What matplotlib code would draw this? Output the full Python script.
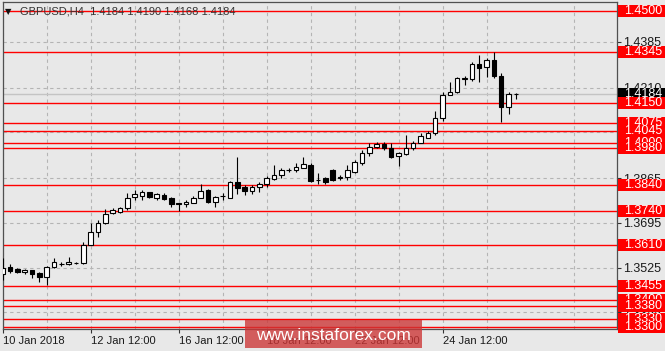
import matplotlib
matplotlib.use('Agg')
import matplotlib.pyplot as plt
from matplotlib.patches import Rectangle
from matplotlib.transforms import blended_transform_factory
import numpy as np

plt.rcParams['font.family'] = ['Liberation Sans', 'DejaVu Sans']

# ---- data (GBPUSD H4) ----
opens = [1.3500, 1.3528, 1.3518, 1.3507, 1.3516, 1.3503, 1.3488, 1.3526, 1.3537, 1.3538,
         1.3542, 1.3542, 1.3611, 1.3659, 1.3693, 1.3733, 1.3738, 1.3750, 1.3795, 1.3797,
         1.3811, 1.3791, 1.3800, 1.3788, 1.3769, 1.3766, 1.3772, 1.3788, 1.3820, 1.3773,
         1.3796, 1.3791, 1.3849, 1.3832, 1.3817, 1.3830, 1.3842, 1.3861, 1.3877, 1.3895,
         1.3896, 1.3905, 1.3915, 1.3858, 1.3865, 1.3896, 1.3867, 1.3868, 1.3890, 1.3922,
         1.3960, 1.3985, 1.3994, 1.3979, 1.3951, 1.3956, 1.3979, 1.4000, 1.4019, 1.4036,
         1.4093, 1.4182, 1.4194, 1.4244, 1.4241, 1.4298, 1.4289, 1.4315, 1.4255, 1.4135,
         1.4184]
highs = [1.3561, 1.3537, 1.3522, 1.3519, 1.3517, 1.3507, 1.3531, 1.3560, 1.3547, 1.3564,
         1.3547, 1.3623, 1.3693, 1.3706, 1.3748, 1.3750, 1.3754, 1.3810, 1.3820, 1.3820,
         1.3814, 1.3810, 1.3808, 1.3795, 1.3771, 1.3782, 1.3797, 1.3842, 1.3823, 1.3797,
         1.3810, 1.3854, 1.3947, 1.3839, 1.3839, 1.3849, 1.3873, 1.3915, 1.3905, 1.3905,
         1.3924, 1.3944, 1.3922, 1.3884, 1.3868, 1.3899, 1.3877, 1.3915, 1.3934, 1.3972,
         1.3998, 1.4002, 1.4004, 1.3998, 1.3966, 1.4029, 1.4007, 1.4036, 1.4045, 1.4121,
         1.4194, 1.4232, 1.4249, 1.4255, 1.4308, 1.4334, 1.4321, 1.4346, 1.4264, 1.4194,
         1.4190]
lows = [1.3478, 1.3503, 1.3503, 1.3502, 1.3486, 1.3471, 1.3459, 1.3522, 1.3531, 1.3535,
        1.3540, 1.3538, 1.3610, 1.3642, 1.3691, 1.3729, 1.3731, 1.3744, 1.3782, 1.3782,
        1.3788, 1.3782, 1.3782, 1.3757, 1.3740, 1.3757, 1.3769, 1.3788, 1.3769, 1.3757,
        1.3782, 1.3790, 1.3805, 1.3802, 1.3804, 1.3812, 1.3833, 1.3858, 1.3867, 1.3887,
        1.3890, 1.3903, 1.3852, 1.3842, 1.3843, 1.3854, 1.3858, 1.3858, 1.3884, 1.3915,
        1.3951, 1.3979, 1.3972, 1.3941, 1.3912, 1.3953, 1.3972, 1.3998, 1.4017, 1.4029,
        1.4083, 1.4180, 1.4188, 1.4220, 1.4236, 1.4232, 1.4251, 1.4245, 1.4080, 1.4109,
        1.4168]
closes = [1.3523, 1.3512, 1.3509, 1.3515, 1.3500, 1.3489, 1.3526, 1.3547, 1.3540, 1.3547,
          1.3544, 1.3611, 1.3659, 1.3693, 1.3728, 1.3744, 1.3750, 1.3791, 1.3804, 1.3811,
          1.3792, 1.3804, 1.3786, 1.3766, 1.3768, 1.3776, 1.3791, 1.3816, 1.3773, 1.3795,
          1.3798, 1.3852, 1.3828, 1.3818, 1.3830, 1.3843, 1.3865, 1.3877, 1.3896, 1.3897,
          1.3906, 1.3918, 1.3855, 1.3859, 1.3852, 1.3858, 1.3870, 1.3896, 1.3925, 1.3960,
          1.3985, 1.3994, 1.3979, 1.3947, 1.3960, 1.3979, 1.4000, 1.4026, 1.4037, 1.4093,
          1.4182, 1.4194, 1.4245, 1.4245, 1.4299, 1.4285, 1.4315, 1.4255, 1.4137, 1.4185,
          1.4184]

level_prices = [1.4500, 1.4345, 1.4150, 1.4075, 1.4045, 1.4000, 1.3980, 1.3840,
                1.3740, 1.3610, 1.3455, 1.3400, 1.3380, 1.3330, 1.3300]
last_price = 1.4184
axis_ticks = [1.4385, 1.4210, 1.4040, 1.3865, 1.3695, 1.3525, 1.3355]
date_positions = [0, 12, 24, 36, 48, 60]
date_labels = ['10 Jan 2018', '12 Jan 12:00', '16 Jan 12:00', '18 Jan 12:00',
               '22 Jan 12:00', '24 Jan 12:00']
title_text = 'GBPUSD,H4  1.4184 1.4190 1.4168 1.4184'
watermark_text = 'www.instaforex.com'

# ---- figure ----
BG = '#e8e8e8'
W, H = 665, 351
fig = plt.figure(figsize=(W / 100, H / 100), dpi=100, facecolor=BG)
ax = fig.add_axes([2.5 / W, 1 - 329 / H, (617 - 2.5) / W, (329 - 1.7) / H])
ax.set_facecolor(BG)
ax.set_axisbelow(True)

# grid & ticks
ax.yaxis.tick_right()
ax.set_yticks(axis_ticks)
ax.set_yticklabels([f'{v:.4f}' for v in axis_ticks])
ax.set_xticks(date_positions)
ax.set_xticklabels(date_labels)
ax.set_xticks(np.arange(6, 84, 12), minor=True)
for lab in ax.get_xticklabels():
    lab.set_ha('left')
grid_kw = dict(color='#b4b4b4', linestyle=(0, (3, 3)), linewidth=0.8)
ax.grid(True, axis='y', which='major', **grid_kw)
ax.grid(True, axis='x', which='both', **grid_kw)
ax.tick_params(axis='y', which='major', length=3, width=0.8, color='#333333',
               pad=1.5, labelsize=9, labelcolor='#1a1a1a')
ax.tick_params(axis='x', which='major', length=3, width=0.8, color='#333333',
               pad=2, labelsize=8, labelcolor='#1a1a1a')
ax.tick_params(axis='x', which='minor', length=0)
for s in ax.spines.values():
    s.set_color('#505050')
    s.set_linewidth(0.9)

# horizontal levels
for p in level_prices:
    ax.axhline(p, color='#ff0000', lw=1.0, zorder=2)
ax.axhline(last_price, color='#c4c4c4', lw=1.0, zorder=1.9)

# candles
o = np.array(opens); h = np.array(highs); l = np.array(lows); c = np.array(closes)
x = np.arange(len(o))
ax.vlines(x, l, h, color='black', lw=0.8, zorder=3)
up = c >= o
bottoms = np.minimum(o, c)
heights = np.maximum(np.abs(c - o), 0.00003)
ax.bar(x[up], heights[up], bottom=bottoms[up], width=0.62, facecolor='white',
       edgecolor='black', lw=0.8, zorder=4)
ax.bar(x[~up], heights[~up], bottom=bottoms[~up], width=0.62, facecolor='black',
       edgecolor='black', lw=0.8, zorder=4)

# price labels on right
tr = blended_transform_factory(fig.transFigure, ax.transData)
half = 0.00234
z = 5
def price_label(p, fc, z):
    r = Rectangle((618.3 / W, p - half), 1 - 618.3 / W, 2 * half, transform=tr,
                  facecolor=fc, edgecolor='none', clip_on=False, zorder=z)
    ax.add_patch(r)
    ax.text(624 / W, p, f'{p:.4f}', transform=tr, color='white', fontsize=9,
            va='center', ha='left', zorder=z + 0.5, clip_on=False)

price_label(last_price, 'black', z)
for p in level_prices:
    z += 1
    price_label(p, '#ff0000', z)

ax.set_xlim(-0.03, 83.8)
ax.set_ylim(1.32911, 1.45365)

# title
fig.text(8 / W, 1 - 11.5 / H, '\u25bc', fontsize=6, color='#111111', ha='center',
         va='center', family=['DejaVu Sans'])
fig.text(20 / W, 1 - 11.7 / H, title_text, fontsize=8, color='#333333',
         ha='left', va='center')

# watermark
wm = Rectangle((245 / W, 1 - 348 / H), (421.7 - 245) / W, (348 - 320) / H,
               transform=fig.transFigure, facecolor='#cc3535', alpha=0.78,
               edgecolor='none', zorder=10)
fig.add_artist(wm)
fig.text(333 / W, 1 - 335 / H, watermark_text, fontsize=12.5, color='white',
         ha='center', va='center', zorder=11)

fig.savefig('out.png', dpi=100, facecolor=BG)
